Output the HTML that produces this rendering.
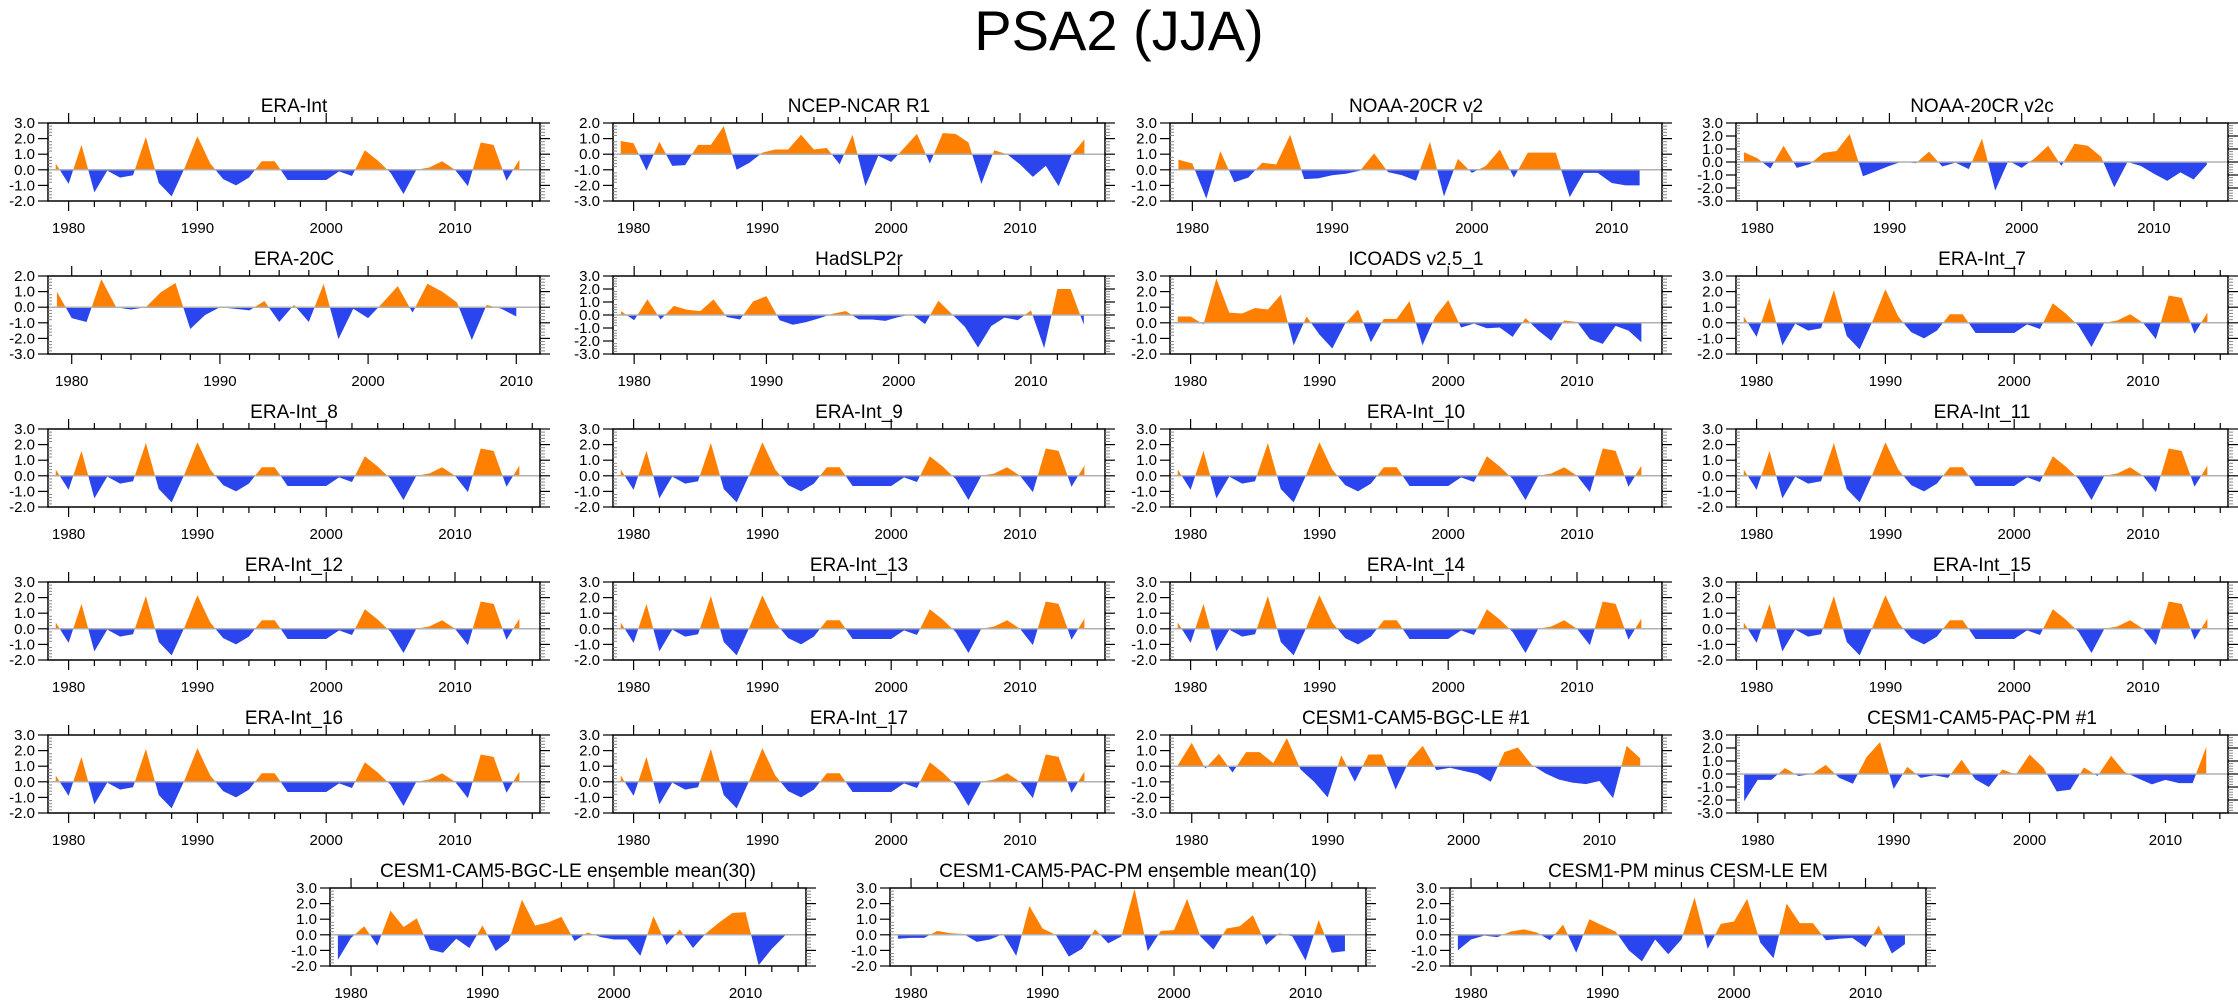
<!DOCTYPE html>
<html><head><meta charset="utf-8"><style>
html,body{margin:0;padding:0;background:#fff}
svg{display:block}
text{font-family:"Liberation Sans",sans-serif;fill:#000}
</style></head><body>
<svg id="chart" width="2238" height="1005" viewBox="0 0 2238 1005" xmlns="http://www.w3.org/2000/svg">
<rect width="2238" height="1005" fill="#fff"/>
<text x="1119" y="50" font-size="56" text-anchor="middle">PSA2 (JJA)</text>
</svg>
<script>
const eraIntStart = 1979;
const eraInt = [0.4,-0.9,1.6,-1.45,-0.05,-0.5,-0.35,2.1,-0.85,-1.7,0.1,2.15,0.4,-0.6,-1.0,-0.5,0.55,0.55,-0.65,-0.65,-0.65,-0.65,-0.1,-0.4,1.25,0.6,-0.2,-1.55,0.0,0.15,0.55,0.0,-1.05,1.75,1.6,-0.7,0.65];
const ncep = [0.85,0.7,-1.05,0.8,-0.75,-0.7,0.6,0.6,1.8,-1.0,-0.55,0.1,0.3,0.3,1.25,0.3,0.4,-0.65,1.25,-2.05,-0.1,-0.5,0.4,1.3,-0.6,1.35,1.3,0.75,-1.9,0.25,0.0,-0.65,-1.45,-0.75,-2.05,-0.05,0.95];
const c20v2 = [0.65,0.4,-1.85,1.2,-0.8,-0.5,0.45,0.35,2.25,-0.6,-0.55,-0.35,-0.25,-0.05,1.05,-0.15,-0.35,-0.7,1.8,-1.7,0.7,-0.2,0.25,1.3,-0.5,1.1,1.1,1.1,-1.75,-0.2,-0.2,-0.85,-1.0,-1.0];
const c20v2c = [0.75,0.3,-0.5,1.25,-0.45,-0.15,0.7,0.85,2.15,-1.1,-0.7,-0.3,0.05,-0.1,0.8,-0.35,-0.05,-0.55,1.8,-2.2,0.1,-0.45,0.3,1.25,-0.3,1.4,1.25,0.4,-1.95,0.0,-0.3,-0.9,-1.45,-0.8,-1.35,-0.2];
const era20c = [1.0,-0.7,-0.95,1.8,0.0,-0.15,0.0,0.95,1.55,-1.4,-0.5,0.0,-0.1,-0.2,0.4,-0.95,0.15,-0.95,1.5,-2.05,-0.1,-0.7,0.3,1.35,-0.35,1.5,1.0,0.3,-2.1,0.15,-0.1,-0.6];
const hadslp = [0.3,-0.4,1.2,-0.35,0.7,0.4,0.3,1.2,-0.15,-0.35,1.05,1.45,-0.4,-0.75,-0.55,-0.25,0.1,0.3,-0.35,-0.35,-0.45,-0.15,0.05,-0.7,1.1,0.1,-0.9,-2.5,-0.85,-0.2,-0.4,0.35,-2.55,2.0,2.0,-0.75];
const icoads = [0.4,0.4,-0.1,2.85,0.65,0.6,0.95,0.85,1.8,-1.45,0.4,-0.75,-1.65,-0.05,0.85,-1.25,0.25,0.25,1.4,-1.45,0.4,1.45,-0.3,-0.05,-0.35,-0.3,-0.9,0.3,-0.5,-1.15,0.15,0.05,-1.05,-1.35,-0.2,-0.5,-1.25];
const leOne = [0.1,1.5,-0.15,0.8,-0.4,0.9,0.9,0.2,1.8,-0.2,-1.0,-2.0,0.7,-1.0,0.75,0.75,-1.5,0.35,1.3,-0.25,-0.1,-0.3,-0.5,-1.0,0.9,1.2,0.1,-0.45,-0.85,-1.05,-1.15,-0.95,-2.05,1.3,0.5];
const pmOne = [-2.1,-0.45,-0.45,0.45,-0.15,0.0,0.7,-0.3,-0.75,1.3,2.45,-1.15,0.55,-0.3,-0.1,-0.3,1.1,-0.4,-1.0,0.35,-0.05,1.5,0.5,-1.35,-1.2,0.5,-0.15,1.4,0.15,-0.35,-0.8,-0.45,-0.7,-0.7,2.1];
const leEM = [-1.6,-0.2,0.55,-0.7,1.55,0.5,1.05,-0.95,-1.15,-0.25,-0.85,0.6,-1.05,-0.4,2.25,0.6,0.8,1.15,-0.4,0.15,-0.15,-0.3,-0.3,-1.35,1.2,-0.65,0.35,-0.85,0.1,0.8,1.4,1.45,-1.95,-0.9,-0.05];
const pmEM = [-0.25,-0.2,-0.2,0.25,0.1,0.05,-0.45,-0.3,0.05,-1.35,1.85,0.4,0.0,-1.4,-0.9,0.35,-0.55,-0.1,2.95,-1.05,0.25,0.3,2.3,-0.1,-0.95,0.4,0.55,1.25,-0.65,0.1,-0.1,-1.65,0.95,-1.15,-1.05];
const pmMinusLe = [-1.0,-0.3,-0.05,-0.15,0.2,0.35,0.15,-0.35,0.65,-1.15,1.0,0.6,0.2,-1.0,-1.7,-0.3,-1.25,-0.3,2.4,-0.9,0.7,0.85,2.3,-0.5,-1.5,2.0,0.75,0.75,-0.35,-0.25,-0.2,-0.8,0.6,-1.2,-0.6];
const panelTitles = ["ERA-Int","NCEP-NCAR R1","NOAA-20CR v2","NOAA-20CR v2c","ERA-20C","HadSLP2r","ICOADS v2.5_1","ERA-Int_7","ERA-Int_8","ERA-Int_9","ERA-Int_10","ERA-Int_11","ERA-Int_12","ERA-Int_13","ERA-Int_14","ERA-Int_15","ERA-Int_16","ERA-Int_17","CESM1-CAM5-BGC-LE #1","CESM1-CAM5-PAC-PM #1","CESM1-CAM5-BGC-LE ensemble mean(30)","CESM1-CAM5-PAC-PM ensemble mean(10)","CESM1-PM minus CESM-LE EM"];
const panelSeries = [eraInt,ncep,c20v2,c20v2c,era20c,hadslp,icoads,eraInt,eraInt,eraInt,eraInt,eraInt,eraInt,eraInt,eraInt,eraInt,eraInt,eraInt,leOne,pmOne,leEM,pmEM,pmMinusLe];
const panelYMin = [-2,-3,-2,-3,-3,-3,-2,-2,-2,-2,-2,-2,-2,-2,-2,-2,-2,-2,-3,-3,-2,-2,-2];
const panelYMax = [3,2,3,3,2,3,3,3,3,3,3,3,3,3,3,3,3,3,2,3,3,3,3];

const svg = document.getElementById('chart');
const NS = 'http://www.w3.org/2000/svg';
const colLefts = [48,613,1170,1736];
const row6Lefts = [330,890,1450];
const rowTops = [123,276,429,582,735,888];
const H = 78;

function mk(tag, attrs, parent){
  const e = document.createElementNS(NS, tag);
  for (const k in attrs) e.setAttribute(k, attrs[k]);
  (parent||svg).appendChild(e);
  return e;
}

panelTitles.forEach((title, p) => {
  const row = Math.floor(p/4);
  const left = row < 5 ? colLefts[p%4] : row6Lefts[p-20];
  const W = row < 5 ? 492 : 476;
  const top = rowTops[row];
  const vals = panelSeries[p];
  const y0 = eraIntStart, y1 = eraIntStart + vals.length - 1;
  const xmin = y0 - 0.6, xmax = y1 + 1.6;
  const ymin = panelYMin[p], ymax = panelYMax[p];
  const sx = v => left + (v - xmin) / (xmax - xmin) * W;
  const sy = v => top + (ymax - v) / (ymax - ymin) * H;
  const g = mk('g', {});
  
  

  const t = mk('text', {x: left + W/2, y: top - 11, 'font-size': 19, 'text-anchor': 'middle'}, g);
  
  
  t.textContent = title;

  const zy = sy(0);
  let d = 'M' + sx(y0) + ',' + zy;
  vals.forEach((v, i) => { d += ' L' + sx(y0 + i).toFixed(2) + ',' + sy(v).toFixed(2); });
  d += ' L' + sx(y1) + ',' + zy + ' Z';
  const cu = 'cu' + p, cd = 'cd' + p;
  const defs = mk('defs', {}, g);
  const c1 = mk('clipPath', {id: cu}, defs);
  mk('rect', {x: left, y: top, width: W, height: zy - top}, c1);
  const c2 = mk('clipPath', {id: cd}, defs);
  mk('rect', {x: left, y: zy, width: W, height: top + H - zy}, c2);
  const pos = mk('path', {d: d, fill: '#ff8000', 'clip-path': 'url(#' + cu + ')'}, g);
  
  
  const neg = mk('path', {d: d, fill: '#2b45ee', 'clip-path': 'url(#' + cd + ')'}, g);
  
  
  const zl = mk('line', {x1: left, x2: left + W, y1: zy, y2: zy, stroke: '#b0b0b0', 'stroke-width': 1.5}, g);
  
  

  const fr = mk('rect', {x: left, y: top, width: W, height: H, fill: 'none', stroke: '#000', 'stroke-width': 1.5}, g);
  
  

  for (let yr = Math.ceil(xmin/2)*2; yr <= xmax; yr += 2) {
    const x = sx(yr), major = yr % 10 === 0, L = major ? 10 : 6;
    mk('line', {x1: x, x2: x, y1: top, y2: top - L, stroke: '#000', 'stroke-width': 1.2}, g);
    mk('line', {x1: x, x2: x, y1: top + H, y2: top + H + L, stroke: '#000', 'stroke-width': 1.2}, g);
    if (major) {
      const lb = mk('text', {x: x, y: top + H + 32, 'font-size': 15, 'text-anchor': 'middle'}, g);
      
      
      lb.textContent = yr;
    }
  }
  for (let k = ymin*5; k <= ymax*5; k++) {
    const v = k/5, y = sy(v);
    if (k % 5 === 0) {
      mk('line', {x1: left - 10, x2: left, y1: y, y2: y, stroke: '#000', 'stroke-width': 1.2}, g);
      mk('line', {x1: left + W, x2: left + W + 10, y1: y, y2: y, stroke: '#000', 'stroke-width': 1.2}, g);
      const lb = mk('text', {x: left - 13, y: y + 5, 'font-size': 15, 'text-anchor': 'end'}, g);
      
      
      lb.textContent = v.toFixed(1);
    } else {
      mk('line', {x1: left, x2: left + 4, y1: y, y2: y, stroke: '#888', 'stroke-width': 1}, g);
      mk('line', {x1: left + W, x2: left + W + 5, y1: y, y2: y, stroke: '#888', 'stroke-width': 1}, g);
    }
  }
});
</script>
</body></html>
